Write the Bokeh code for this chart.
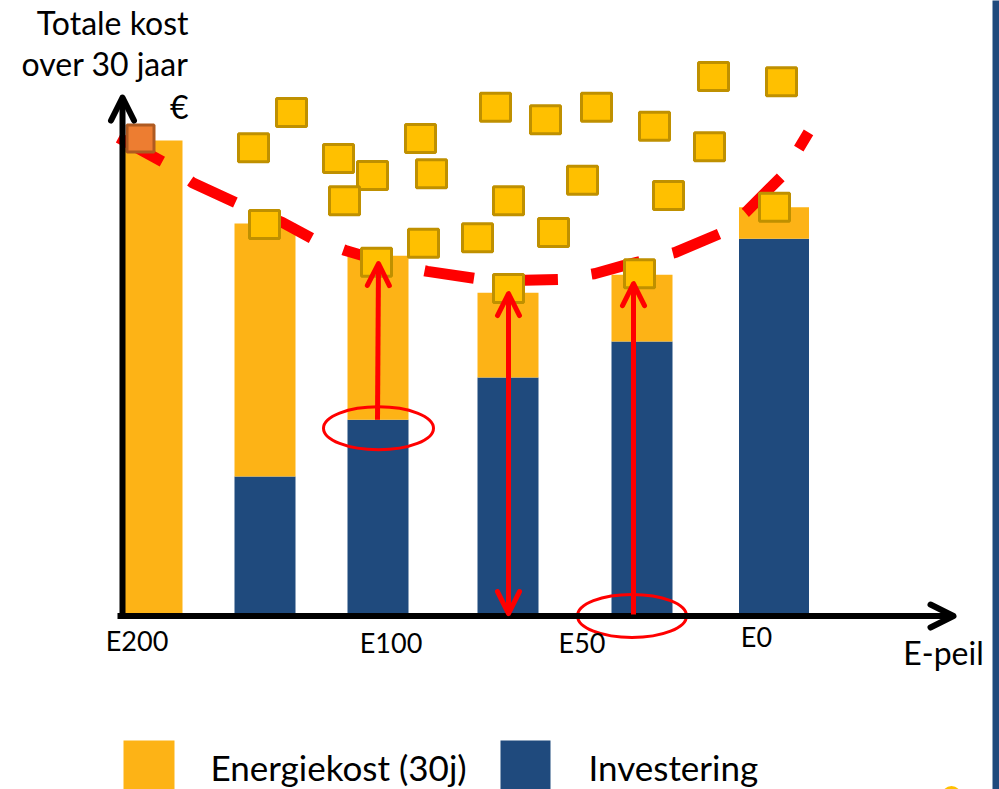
from bokeh.plotting import figure
from bokeh.models import ColumnDataSource, Range1d, Arrow, OpenHead
from bokeh.core.properties import value
from bokeh.embed import file_html
from bokeh.resources import INLINE

# ---------------- data (schematic cost units) ----------------
bar_pos = [3.05, 14.25, 25.55, 38.55, 51.95, 65.15]
bar_width = [5.9, 6.1, 6.1, 6.1, 6.1, 7.0]
investering = [0.0, 29.1, 41.1, 50.0, 57.6, 79.3]
energiekost = [100.0, 53.4, 34.6, 17.9, 14.1, 6.6]

# E-peil tick labels
tick_labels = ["E200", "E100", "E50", "E0"]
tick_x = [1.45, 26.85, 45.95, 63.4]
tick_y = [-5.38, -6.01, -6.01, -4.74]

# reference (current) design
ref_x = [1.8]
ref_y = [100.4]

# alternative designs (total cost over 30 years)
alt_x = [13.1, 16.9, 14.2, 21.6, 25.0, 22.2, 29.8, 30.9, 30.1, 25.4, 37.3, 42.3, 47.4,
         38.6, 35.5, 43.1, 46.0, 53.2, 54.6, 59.1, 65.9, 58.7, 65.2, 51.7, 38.6]
alt_y = [98.5, 105.9, 82.3, 96.2, 92.6, 87.3, 100.4, 93.0, 78.3, 74.3, 107.0, 104.4, 107.0,
         87.3, 79.5, 80.6, 91.6, 103.0, 88.4, 113.5, 112.4, 98.7, 85.9, 71.9, 68.8]

# cost-optimum trend curve
trend_x = [-0.4, 4.1, 7.0, 11.5, 16.0, 19.0, 22.3, 27.1, 30.5, 35.3, 40.2, 43.6, 47.2,
           50.1, 55.3, 59.8, 62.3, 66.0, 68.6]
trend_y = [100.6, 95.4, 91.1, 86.7, 82.7, 79.3, 76.8, 73.8, 72.4, 70.9, 70.5, 70.7, 71.9,
           73.6, 76.4, 80.4, 84.8, 92.6, 101.7]

# highlight arrows and ellipses
arrow_x0 = [25.5, 51.1]
arrow_y0 = [41.1, 0.0]
arrow_x1 = [25.6, 51.1]
arrow_y1 = [74.05, 69.8]
darrow_x = [38.6]
darrow_y0 = [0.2]
darrow_y1 = [67.7]
ell_x = [25.6, 50.95]
ell_y = [39.3, -0.3]
ell_w = [11.0, 10.9]
ell_h = [9.07, 9.07]

legend_labels = ["Energiekost (30j)", "Investering"]
legend_box_x = [2.65, 40.3]
legend_box_w = [5.1, 5.0]
legend_text_x = [8.8, 46.6]

axis_title_lines = ["Totale kost", "over 30 jaar", "\u20ac"]
axis_title_y = [125.0, 116.35, 107.28]

YELLOW = "#FDB316"
BLUE = "#1F4A7D"
RED = "#FF0000"
FONT = value("Lato")

p = figure(width=999, height=789, x_range=Range1d(-12.2, 87.7), y_range=Range1d(-36.92, 129.54),
           output_backend="svg", toolbar_location=None, min_border=0)
p.xaxis.visible = False
p.yaxis.visible = False
p.grid.visible = False
p.outline_line_color = None
p.background_fill_color = "white"
p.border_fill_color = "white"

# slide decorations (right border strip, logo edge)
p.quad(left=[87.0], right=[89.0], bottom=[-40.0], top=[135.0], fill_color=BLUE, line_width=0)
p.scatter(x=[82.9], y=[-38.2], marker="circle", size=16, fill_alpha=0, line_color="#FFC000",
          line_width=3)

bars = ColumnDataSource(dict(x=bar_pos, w=bar_width, investering=investering, energiekost=energiekost))
p.vbar_stack(["investering", "energiekost"], x="x", width="w", color=[BLUE, YELLOW], line_width=0,
             source=bars)

p.line(trend_x, trend_y, line_color=RED, line_width=11, line_dash="50 34", line_cap="butt")

p.rect(x=ref_x, y=ref_y, width=27, height=27, width_units="screen", height_units="screen",
       fill_color="#ED7D31", line_color="#AE5A21", line_width=3)
p.rect(x=alt_x, y=alt_y, width=30, height=28, width_units="screen", height_units="screen",
       fill_color="#FFC000", line_color="#BF9000", line_width=3)

p.ellipse(x=ell_x, y=ell_y, width=ell_w, height=ell_h, fill_alpha=0, line_color=RED, line_width=3)

# axes drawn as arrows
ax = ColumnDataSource(dict(x0=[0.0, -0.5], y0=[-0.84, -0.32], x1=[0.0, 83.1], y1=[109.07, -0.32]))
p.add_layout(Arrow(x_start="x0", y_start="y0", x_end="x1", y_end="y1", source=ax,
                   line_color="black", line_width=6,
                   end=OpenHead(size=23, line_color="black", line_width=6, line_cap="round",
                                line_join="round")))

arr = ColumnDataSource(dict(x0=arrow_x0, y0=arrow_y0, x1=arrow_x1, y1=arrow_y1))
p.add_layout(Arrow(x_start="x0", y_start="y0", x_end="x1", y_end="y1", source=arr,
                   line_color=RED, line_width=5,
                   end=OpenHead(size=22, line_color=RED, line_width=5, line_cap="round",
                                line_join="round")))
darr = ColumnDataSource(dict(x0=darrow_x, y0=darrow_y0, x1=darrow_x, y1=darrow_y1))
p.add_layout(Arrow(x_start="x0", y_start="y0", x_end="x1", y_end="y1", source=darr,
                   line_color=RED, line_width=5,
                   start=OpenHead(size=22, line_color=RED, line_width=5, line_cap="round",
                                  line_join="round"),
                   end=OpenHead(size=22, line_color=RED, line_width=5, line_cap="round",
                                line_join="round")))

# texts
p.text(x=[6.6] * 3, y=axis_title_y, text=axis_title_lines, text_font=FONT,
       text_font_size=value("32px"), text_align="right", text_baseline="alphabetic",
       text_color="black")
p.text(x=tick_x, y=tick_y, text=tick_labels, text_font=FONT, text_font_size=value("27px"),
       text_align="center", text_baseline="alphabetic", text_color="black")
p.text(x=[82.1], y=[-8.12], text=["E-peil"], text_font=FONT, text_font_size=value("32px"),
       text_align="center", text_baseline="alphabetic", text_color="black")

# legend
p.rect(x=legend_box_x, y=[-32.1, -32.1], width=legend_box_w, height=[11.0, 11.0],
       fill_color=[YELLOW, BLUE], line_width=0)
p.text(x=legend_text_x, y=[-32.2, -32.2], text=legend_labels, text_font=FONT,
       text_font_size=value("35px"), text_align="left", text_baseline="alphabetic",
       text_color="black")

open("out.html", "w").write(file_html(p, INLINE))
